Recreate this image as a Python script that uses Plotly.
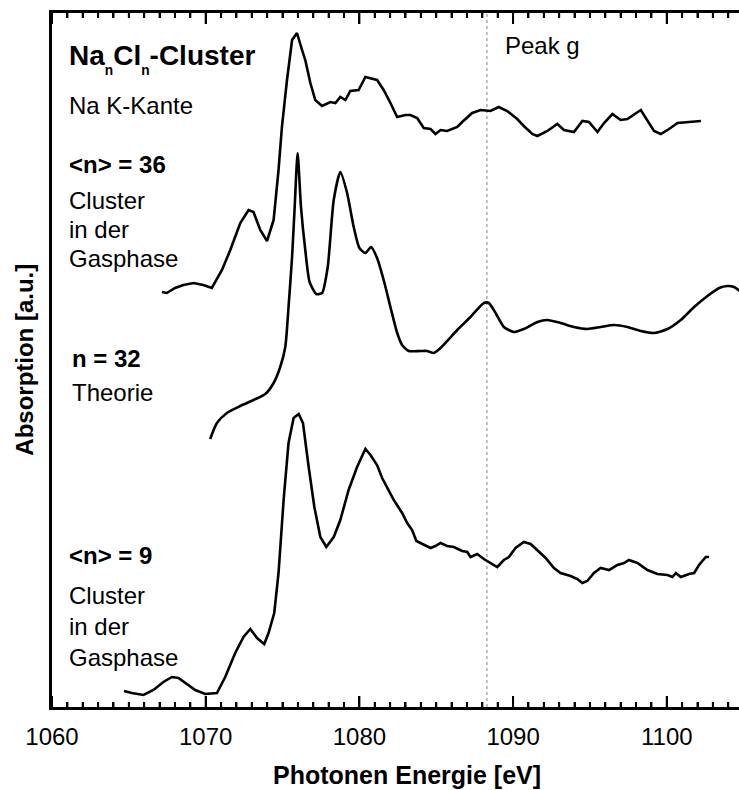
import plotly.graph_objects as go

# Na K-edge absorption spectra of NaCl clusters (photon energy in eV, absorption in a.u.)

# <n> = 36, clusters in the gas phase
energy_n36 = [1067.15, 1067.47, 1068.01, 1068.55, 1069.21, 1069.84, 1070.40, 1071.06, 1071.60, 1072.25,
              1072.79, 1073.11, 1073.55, 1073.99, 1074.42, 1074.74, 1074.96, 1075.29, 1075.62, 1075.94,
              1076.27, 1076.48, 1076.81, 1077.13, 1077.57, 1078.11, 1078.44, 1078.76, 1079.09, 1079.41,
              1079.95, 1080.39, 1081.15, 1081.58, 1082.02, 1082.46, 1083.00, 1083.32, 1083.76, 1084.19,
              1084.63, 1084.95, 1085.28, 1085.71, 1086.37, 1086.69, 1087.34, 1087.88, 1088.53, 1089.07,
              1089.62, 1090.27, 1090.70, 1091.25, 1091.58, 1092.23, 1092.88, 1093.31, 1093.96, 1094.51,
              1094.94, 1095.49, 1095.92, 1096.46, 1097.00, 1097.44, 1098.31, 1098.74, 1099.17, 1099.61,
              1100.15, 1100.70, 1101.35, 1101.78, 1102.22]
absorb_n36 = [4.15, 4.14, 4.19, 4.22, 4.24, 4.22, 4.19, 4.37, 4.57, 4.84,
              4.97, 4.95, 4.77, 4.66, 4.87, 5.37, 5.80, 6.27, 6.67, 6.74,
              6.57, 6.47, 6.24, 6.07, 6.01, 6.05, 6.04, 6.10, 6.07, 6.16,
              6.17, 6.30, 6.27, 6.17, 6.04, 5.90, 5.92, 5.92, 5.89, 5.79,
              5.78, 5.73, 5.77, 5.76, 5.80, 5.85, 5.94, 5.97, 5.96, 6.00,
              5.96, 5.88, 5.81, 5.73, 5.71, 5.76, 5.83, 5.77, 5.75, 5.86,
              5.85, 5.75, 5.84, 5.93, 5.87, 5.88, 5.97, 5.87, 5.76, 5.73,
              5.78, 5.84, 5.85, 5.86, 5.86]

# n = 32, theory
energy_theory = [1070.29, 1070.73, 1071.38, 1072.25, 1073.11, 1073.88, 1074.42, 1074.85, 1075.18, 1075.39,
                 1075.62, 1075.79, 1075.98, 1076.20, 1076.48, 1076.76, 1077.20, 1077.57, 1077.94, 1078.33,
                 1078.76, 1079.20, 1079.63, 1080.00, 1080.39, 1080.76, 1081.15, 1081.58, 1082.02, 1082.46,
                 1082.78, 1083.21, 1083.97, 1084.41, 1084.84, 1085.28, 1086.37, 1087.23, 1088.10, 1088.42,
                 1088.86, 1089.40, 1090.05, 1090.70, 1091.58, 1092.23, 1093.09, 1093.96, 1094.83, 1095.70,
                 1096.57, 1097.44, 1098.31, 1099.17, 1100.05, 1100.91, 1101.78, 1102.65, 1103.41, 1103.95,
                 1104.38, 1104.76, 1105.20]
absorb_theory = [2.68, 2.84, 2.94, 3.01, 3.07, 3.13, 3.24, 3.40, 3.60, 4.00,
                 4.50, 5.00, 5.54, 5.00, 4.57, 4.25, 4.13, 4.14, 4.40, 5.07,
                 5.35, 5.14, 4.80, 4.59, 4.54, 4.60, 4.49, 4.27, 4.00, 3.74,
                 3.62, 3.56, 3.56, 3.56, 3.54, 3.59, 3.77, 3.90, 4.04, 4.04,
                 3.94, 3.80, 3.75, 3.78, 3.85, 3.87, 3.84, 3.80, 3.78, 3.80,
                 3.82, 3.80, 3.76, 3.74, 3.78, 3.87, 4.00, 4.11, 4.19, 4.21,
                 4.20, 4.16, 4.12]

# <n> = 9, clusters in the gas phase
energy_n9 = [1064.69, 1065.19, 1065.95, 1066.60, 1067.25, 1067.80, 1068.23, 1068.78, 1069.32, 1069.97,
             1070.73, 1071.27, 1071.92, 1072.46, 1072.90, 1073.34, 1073.81, 1074.09, 1074.46, 1074.74,
             1075.07, 1075.39, 1075.72, 1076.05, 1076.33, 1076.70, 1077.07, 1077.46, 1077.85, 1078.33,
             1078.76, 1079.30, 1079.85, 1080.39, 1080.72, 1081.15, 1081.48, 1082.24, 1082.78, 1083.11,
             1083.43, 1083.71, 1084.30, 1084.63, 1084.95, 1085.28, 1085.71, 1086.14, 1086.69, 1087.02,
             1087.23, 1087.67, 1088.10, 1088.53, 1088.97, 1089.40, 1089.73, 1090.16, 1090.70, 1091.14,
             1091.58, 1092.12, 1092.66, 1093.09, 1093.75, 1094.18, 1094.51, 1094.83, 1095.26, 1095.70,
             1096.24, 1096.79, 1097.22, 1097.54, 1098.09, 1098.74, 1099.39, 1100.05, 1100.37, 1100.59,
             1100.91, 1101.45, 1101.78, 1102.10, 1102.54, 1102.76]
absorb_n9 = [0.16, 0.14, 0.12, 0.17, 0.25, 0.30, 0.29, 0.23, 0.17, 0.13,
             0.14, 0.30, 0.54, 0.70, 0.78, 0.69, 0.63, 0.74, 0.94, 1.34,
             2.07, 2.64, 2.89, 2.93, 2.84, 2.40, 2.00, 1.70, 1.60, 1.70,
             1.87, 2.17, 2.40, 2.58, 2.52, 2.42, 2.29, 2.07, 1.94, 1.84,
             1.77, 1.66, 1.61, 1.59, 1.61, 1.64, 1.61, 1.60, 1.56, 1.55,
             1.50, 1.53, 1.48, 1.44, 1.40, 1.47, 1.50, 1.59, 1.65, 1.63,
             1.57, 1.49, 1.39, 1.34, 1.31, 1.28, 1.24, 1.26, 1.34, 1.39,
             1.37, 1.42, 1.44, 1.47, 1.44, 1.37, 1.33, 1.32, 1.30, 1.34,
             1.30, 1.33, 1.34, 1.42, 1.50, 1.50]

peak_g_energy = 1088.3
major_step = 10   # eV between labelled ticks
minor_step = 1    # eV between minor ticks
x_range = [1060, 1104.7]
y_range = [0, 6.94]

FONT = "Liberation Sans, Arial, Helvetica, sans-serif"
LINE = dict(color="black", width=2.6)
PLOT_H = 790 - 13 - 83          # plot area height in px
MAJOR_LEN, MINOR_LEN = 11, 5    # tick lengths in px

fig = go.Figure()
fig.add_trace(go.Scatter(x=energy_n36, y=absorb_n36, mode="lines", line=LINE,
                         name="<n> = 36", hoverinfo="skip"))
fig.add_trace(go.Scatter(x=energy_theory, y=absorb_theory, mode="lines",
                         line=dict(color="black", width=2.6, shape="spline", smoothing=0.6),
                         name="n = 32", hoverinfo="skip"))
fig.add_trace(go.Scatter(x=energy_n9, y=absorb_n9, mode="lines", line=LINE,
                         name="<n> = 9", hoverinfo="skip"))

# dotted marker line for peak g
fig.add_shape(type="line", xref="x", yref="paper", x0=peak_g_energy, x1=peak_g_energy,
              y0=0, y1=1, line=dict(color="#808080", width=1, dash="dot"), layer="below")

# inward tick marks along the bottom and top frame edges, on a pixel-scaled overlay axis
tick_x, tick_y = [], []
n_minor = int((x_range[1] - x_range[0]) // minor_step)
for i in range(n_minor + 1):
    e = x_range[0] + i * minor_step
    length = MAJOR_LEN if (i * minor_step) % major_step == 0 else MINOR_LEN
    tick_x += [e, e, None, e, e, None]
    tick_y += [0, length, None, PLOT_H, PLOT_H - length, None]
fig.add_trace(go.Scatter(x=tick_x, y=tick_y, yaxis="y2", mode="lines",
                         line=dict(color="black", width=2), hoverinfo="skip",
                         showlegend=False, connectgaps=False))


def label(x, y, text, size=24, bold=False):
    fig.add_annotation(x=x, y=y, xref="x", yref="y", text=f"<b>{text}</b>" if bold else text,
                       showarrow=False, xanchor="left", yanchor="top", borderpad=0,
                       font=dict(family=FONT, size=size, color="black"))


label(1061.04, 6.683, "Na<sub><sub>n</sub></sub>Cl<sub><sub>n</sub></sub>-Cluster", size=28, bold=True)
label(1061.04, 6.157, "Na K-Kante")
label(1061.04, 5.567, "&lt;n&gt; = 36", bold=True)
label(1061.04, 5.207, "Cluster")
label(1061.04, 4.917, "in der")
label(1061.04, 4.627, "Gasphase")
label(1061.24, 3.627, "n = 32", bold=True)
label(1061.24, 3.287, "Theorie")
label(1061.04, 1.657, "&lt;n&gt; = 9", bold=True)
label(1061.04, 1.257, "Cluster")
label(1061.04, 0.947, "in der")
label(1061.04, 0.637, "Gasphase")
label(1089.38, 6.757, "Peak g")

# axis titles
fig.add_annotation(x=1083.1, y=-0.0985, xref="x", yref="paper", text="<b>Photonen Energie [eV]</b>",
                   showarrow=False, xanchor="center", yanchor="middle", borderpad=0,
                   font=dict(family=FONT, size=25, color="black"))
fig.add_annotation(x=-0.0412, y=0.5, xref="paper", yref="paper", text="<b>Absorption [a.u.]</b>",
                   showarrow=False, xanchor="center", yanchor="middle", textangle=-90, borderpad=0,
                   font=dict(family=FONT, size=24, color="black"))

fig.update_layout(
    xaxis=dict(range=x_range, tickmode="linear", tick0=x_range[0], dtick=major_step,
               ticks="inside", ticklen=MAJOR_LEN, tickwidth=2, tickcolor="black",
               minor=dict(tickmode="linear", tick0=x_range[0], dtick=minor_step, ticks="inside",
                          ticklen=MINOR_LEN, tickwidth=2, tickcolor="black", showgrid=False),
               showline=True, linewidth=2.5, linecolor="black", mirror="ticks",
               showgrid=False, zeroline=False, ticklabelstandoff=6,
               tickfont=dict(family=FONT, size=24, color="black")),
    yaxis=dict(range=y_range, showline=True, linewidth=2.5, linecolor="black", mirror=False,
               ticks="", showticklabels=False, showgrid=False, zeroline=False),
    yaxis2=dict(range=[0, PLOT_H], overlaying="y", visible=False, fixedrange=True),
)

fig.update_layout(width=739, height=790, autosize=False, showlegend=False,
                  margin=dict(l=52, r=0, t=13, b=83),
                  paper_bgcolor="white", plot_bgcolor="white",
                  font=dict(family=FONT, color="black"))

fig.write_html("out.html", config={"displayModeBar": False})
